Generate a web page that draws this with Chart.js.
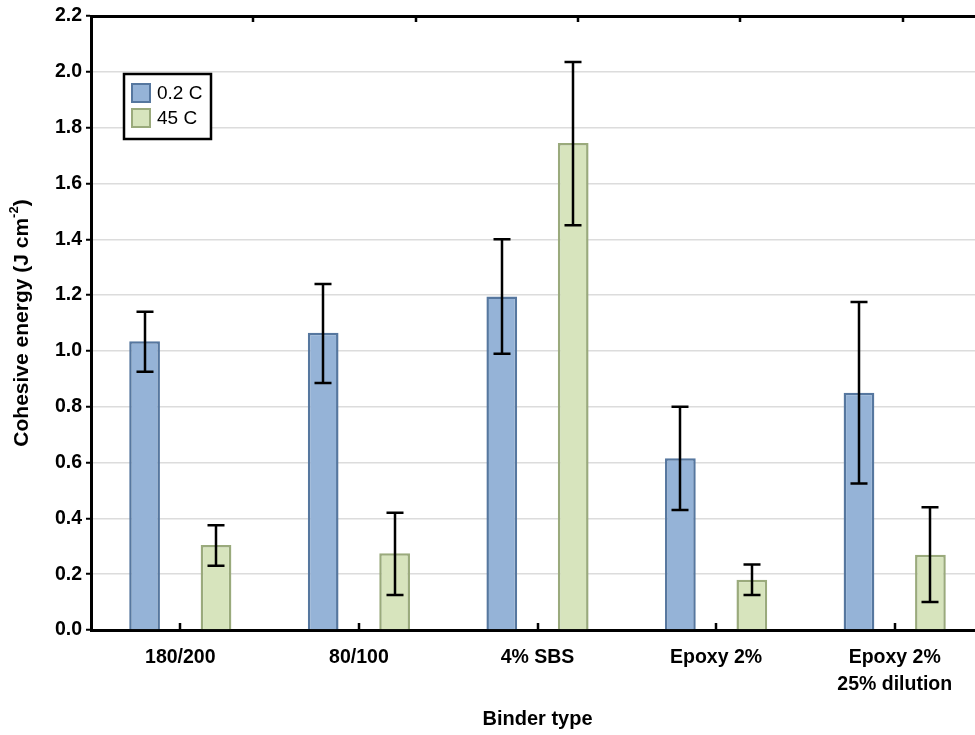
<!DOCTYPE html>
<html>
<head>
<meta charset="utf-8">
<script src="https://cdn.jsdelivr.net/npm/chart.js@4"></script>
<style>
  html, body { margin: 0; padding: 0; background: #fff; overflow: hidden; }
  #wrap { width: 1000px; height: 735px; }
</style>
</head>
<body>
<div id="wrap"><canvas id="chart" width="1000" height="735"></canvas></div>
<script>
const binders = ['180/200', '80/100', '4% SBS', 'Epoxy 2%', ['Epoxy 2%', '25% dilution']];

// cohesive energy, J cm^-2
const energyCold = [1.035, 1.065, 1.195, 0.615, 0.85];
const errLowCold = [0.925, 0.885, 0.99, 0.43, 0.525];
const errHighCold = [1.14, 1.24, 1.40, 0.80, 1.175];

const energyHot = [0.305, 0.275, 1.745, 0.18, 0.27];
const errLowHot = [0.23, 0.125, 1.45, 0.125, 0.10];
const errHighHot = [0.375, 0.42, 2.035, 0.235, 0.44];

const yMin = 0, yMax = 2.2, yStep = 0.2;

const FONT = '"Liberation Sans", Arial, sans-serif';

/* error bars: vertical whisker with caps, from each bar's own element */
const errorBars = {
  id: 'errorBars',
  afterDatasetsDraw(chart) {
    const y = chart.scales.y;
    const ctx = chart.ctx;
    ctx.save();
    ctx.strokeStyle = '#000';
    ctx.lineWidth = 2.5;
    chart.data.datasets.forEach((ds, i) => {
      chart.getDatasetMeta(i).data.forEach((bar, j) => {
        const top = y.getPixelForValue(ds.errHigh[j]);
        const bot = y.getPixelForValue(ds.errLow[j]);
        const x = Math.round(bar.x);
        ctx.beginPath();
        ctx.moveTo(x, top); ctx.lineTo(x, bot);
        ctx.moveTo(x - 8.5, top); ctx.lineTo(x + 8.5, top);
        ctx.moveTo(x - 8.5, bot); ctx.lineTo(x + 8.5, bot);
        ctx.stroke();
      });
    });
    ctx.restore();
  },
};

/* inward tick marks on bottom and top axes, y title, boxed legend */
const frame = {
  id: 'frame',
  afterDraw(chart) {
    const { ctx, chartArea: a } = chart;
    const x = chart.scales.x, x2 = chart.scales.x2;
    ctx.save();
    ctx.strokeStyle = '#000';
    ctx.lineWidth = 2.5;
    ctx.beginPath();
    x.ticks.forEach((t, i) => {
      const px = Math.round(x.getPixelForTick(i));
      ctx.moveTo(px, a.bottom); ctx.lineTo(px, a.bottom - 7);
    });
    x2.ticks.forEach(t => {
      if (t.value <= x2.min || t.value >= x2.max) return;
      const px = Math.round(x2.getPixelForValue(t.value));
      ctx.moveTo(px, a.top); ctx.lineTo(px, a.top + 6);
    });
    ctx.stroke();

    // y axis title with superscript
    ctx.fillStyle = '#000';
    ctx.translate(22, (a.top + a.bottom) / 2);
    ctx.rotate(-Math.PI / 2);
    ctx.textBaseline = 'middle';
    const main = 'Cohesive energy (J cm';
    const sup = '-2';
    const close = ')';
    ctx.font = 'bold 21px ' + FONT;
    const wMain = ctx.measureText(main).width;
    const wClose = ctx.measureText(close).width;
    ctx.font = 'bold 13px ' + FONT;
    const wSup = ctx.measureText(sup).width;
    let cx = -(wMain + wSup + wClose) / 2;
    ctx.textAlign = 'left';
    ctx.font = 'bold 21px ' + FONT;
    ctx.fillText(main, cx, 0);
    cx += wMain;
    ctx.font = 'bold 13px ' + FONT;
    ctx.fillText(sup, cx, -8);
    cx += wSup;
    ctx.font = 'bold 21px ' + FONT;
    ctx.fillText(close, cx, 0);
    ctx.setTransform(1, 0, 0, 1, 0, 0);

    // legend box
    const bx = 124, by = 74, bw = 87, bh = 65;
    ctx.fillStyle = '#fff';
    ctx.fillRect(bx, by, bw, bh);
    ctx.lineWidth = 2.5;
    ctx.strokeStyle = '#000';
    ctx.strokeRect(bx, by, bw, bh);
    ctx.font = '19px ' + FONT;
    ctx.textAlign = 'left';
    ctx.textBaseline = 'middle';
    chart.data.datasets.forEach((ds, i) => {
      const sy = by + 9 + i * 25;
      ctx.fillStyle = ds.backgroundColor;
      ctx.fillRect(bx + 7, sy, 20, 20);
      ctx.strokeStyle = ds.borderColor;
      ctx.lineWidth = 2;
      ctx.strokeRect(bx + 8, sy + 1, 18, 18);
      ctx.fillStyle = '#000';
      ctx.fillText(ds.label, bx + 33, sy + 11);
    });
    ctx.restore();
  },
};

new Chart(document.getElementById('chart').getContext('2d'), {
  type: 'bar',
  data: {
    labels: binders,
    datasets: [
      { label: '0.2 C', data: energyCold, errLow: errLowCold, errHigh: errHighCold,
        backgroundColor: '#95b3d7', borderColor: '#56779f', borderWidth: 2.5 },
      { label: '45 C', data: energyHot, errLow: errLowHot, errHigh: errHighHot,
        backgroundColor: '#d7e4bd', borderColor: '#9aaa7c', borderWidth: 2.5 },
    ],
  },
  options: {
    responsive: false,
    animation: false,
    events: [],
    categoryPercentage: 0.8,
    barPercentage: 0.43,
    layout: { padding: { left: 0, top: 0, right: 16, bottom: 0 } },
    plugins: { legend: { display: false }, tooltip: { enabled: false } },
    scales: {
      x: {
        position: 'bottom',
        grid: { display: false, drawTicks: false },
        border: { display: true, color: '#000', width: 3 },
        ticks: { color: '#000', padding: 14, font: { family: FONT, size: 19.5, weight: 'bold', lineHeight: 1.38 }, maxRotation: 0, autoSkip: false },
        title: { display: true, text: 'Binder type', color: '#000', font: { family: FONT, size: 20, weight: 'bold' }, padding: { top: 4, bottom: 4 } },
        afterFit(s) { s.height = 105; },
      },
      x2: {
        type: 'linear', position: 'top', min: 0, max: 5.5, offset: false,
        ticks: { display: false, stepSize: 1 },
        grid: { drawOnChartArea: false, drawTicks: false, offset: false },
        border: { display: true, color: '#000', width: 3 },
        afterFit(s) { s.height = 16; },
      },
      y: {
        min: yMin, max: yMax,
        grid: { color: '#dcdcdc', lineWidth: 1.5, tickColor: '#000', tickLength: 5, tickWidth: 2 },
        border: { display: true, color: '#000', width: 3 },
        ticks: { stepSize: yStep, color: '#000', padding: 4, font: { family: FONT, size: 19.5, weight: 'bold' },
          callback: v => v.toFixed(1) },
        afterFit(s) { s.width = 91; },
      },
    },
  },
  plugins: [errorBars, frame],
});
</script>
</body>
</html>
